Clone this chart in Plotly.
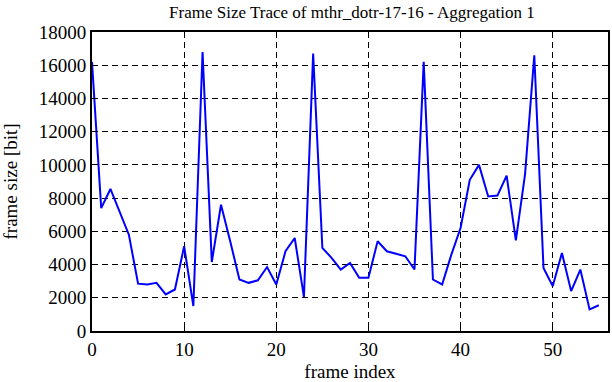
import plotly.graph_objects as go

frame_index = list(range(56))
frame_size = [16200, 7400, 8550, 7200, 5800, 2850, 2800, 2900, 2200, 2500,
              5100, 1500, 16800, 4150, 7600, 5400, 3100, 2900, 3050, 3850,
              2800, 4800, 5600, 2050, 16700, 5000, 4400, 3700, 4100, 3200,
              3200, 5400, 4800, 4650, 4500, 3700, 16200, 3100, 2800, 4600,
              6200, 9100, 10000, 8100, 8150, 9350, 5450, 9450, 16600, 3800,
              2700, 4700, 2400, 3700, 1300, 1550]

x_ticks = [0, 10, 20, 30, 40, 50]
x_tick_labels = [str(v) for v in x_ticks]
y_ticks = [0, 2000, 4000, 6000, 8000, 10000, 12000, 14000, 16000, 18000]
y_tick_labels = [str(v) for v in y_ticks]

font_family = "Liberation Serif"

fig = go.Figure()
fig.add_trace(go.Scatter(x=frame_index, y=frame_size, mode="lines",
                         line=dict(color="#0000ff", width=2), showlegend=False))

axis_common = dict(showline=True, linecolor="black", linewidth=2, mirror="allticks",
                   ticks="inside", ticklen=6, tickwidth=1, tickcolor="black",
                   showgrid=True, gridcolor="black", gridwidth=1, griddash="6px,4px",
                   zeroline=False,
                   tickfont=dict(family=font_family, size=19, color="black"))

fig.update_layout(
    width=612, height=382,
    margin=dict(l=92, r=2, t=32, b=51),
    paper_bgcolor="white", plot_bgcolor="white",
    font=dict(family=font_family, size=19, color="black"),
    title=dict(text="Frame Size Trace of mthr_dotr-17-16 - Aggregation 1",
               x=0.575, xanchor="center", y=0.968, yanchor="middle",
               font=dict(family=font_family, size=17, color="black")),
    xaxis=dict(range=[0, 56], tickvals=x_ticks, ticktext=x_tick_labels,
               title=dict(text="frame index", standoff=7,
                          font=dict(family=font_family, size=19)),
               **axis_common),
    yaxis=dict(range=[0, 18000], tickvals=y_ticks, ticktext=y_tick_labels,
               title=dict(text="frame size [bit]", standoff=18,
                          font=dict(family=font_family, size=19)),
               **axis_common),
)

fig.write_html("out.html", config={"displayModeBar": False},
               post_script="document.body.style.margin='0px';")
